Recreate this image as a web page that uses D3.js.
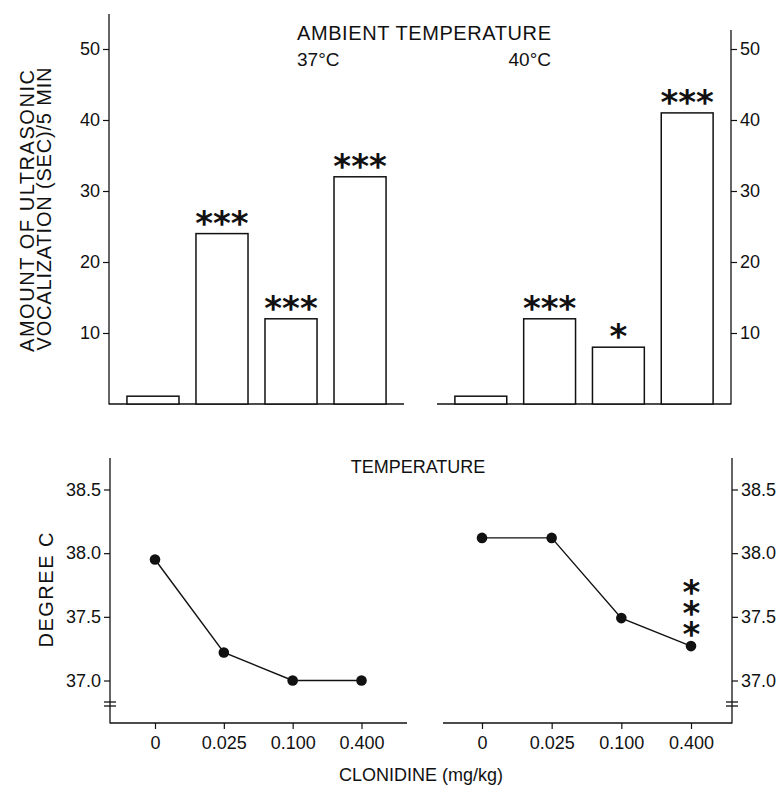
<!DOCTYPE html>
<html>
<head>
<meta charset="utf-8">
<script src="https://cdn.jsdelivr.net/npm/d3@7"></script>
<style>
  html, body { margin: 0; padding: 0; background: #fff; }
  svg { display: block; }
  text { font-family: "Liberation Sans", Arial, sans-serif; fill: #111; }
  .tick text { font-family: "Liberation Sans", Arial, sans-serif; font-size: 18px; fill: #111; }
  .tick line { stroke: #111; stroke-width: 1.2; }
  .sig { font-family: "DejaVu Sans", sans-serif; font-weight: bold; font-size: 34px; }
</style>
</head>
<body>
<svg id="chart" width="783" height="789"></svg>
<script>
// ---- data ----
const doses = ["0", "0.025", "0.100", "0.400"];
const vocal37 = [1.1, 24, 12, 32];
const vocal40 = [1.1, 12, 8, 41];
const vocalSig37 = ["", "***", "***", "***"];
const vocalSig40 = ["", "***", "*", "***"];
const temp37 = [37.95, 37.22, 37.0, 37.0];
const temp40 = [38.12, 38.12, 37.49, 37.27];
const tempSig37 = ["", "", "", ""];
const tempSig40 = ["", "", "", "***"];
const vocalTicks = [10, 20, 30, 40, 50];
const tempTicks = [37.0, 37.5, 38.0, 38.5];
const panelLabels = ["37°C", "40°C"];

const svg = d3.select("#chart");
const ink = "#111";

// ---- scales ----
const xBarL = d3.scaleBand().domain(doses).range([109, 404]).paddingInner(0.246).paddingOuter(0.26);
const xBarR = d3.scaleBand().domain(doses).range([437, 731]).paddingInner(0.246).paddingOuter(0.26);
const yVoc = d3.scaleLinear().domain([0, 50]).range([404, 49]);

const xPtL = d3.scalePoint().domain(doses).range([155, 361.5]);
const xPtR = d3.scalePoint().domain(doses).range([482, 691]);
const yTmp = d3.scaleLinear().domain([37.0, 38.5]).range([680.5, 489.5]);

function line(x1, y1, x2, y2, w) {
  svg.append("line").attr("x1", x1).attr("y1", y1).attr("x2", x2).attr("y2", y2)
    .attr("stroke", ink).attr("stroke-width", w || 1.3);
}

// ---- top panel axes ----
line(109, 14, 109, 404.5);
line(731, 30, 731, 404.5);
line(109, 404, 404, 404, 1.5);
line(437, 404, 731, 404, 1.5);

svg.append("g").attr("transform", "translate(109,0)")
  .call(d3.axisLeft(yVoc).tickValues(vocalTicks).tickSize(6).tickPadding(3))
  .call(g => g.select(".domain").remove());
svg.append("g").attr("transform", "translate(731,0)")
  .call(d3.axisRight(yVoc).tickValues(vocalTicks).tickSize(6).tickPadding(3))
  .call(g => g.select(".domain").remove());

// ---- bars ----
function drawBars(vals, sig, x) {
  const g = svg.append("g");
  g.selectAll("rect").data(vals).join("rect")
    .attr("x", (d, i) => x(doses[i]))
    .attr("y", d => yVoc(d))
    .attr("width", x.bandwidth())
    .attr("height", d => yVoc(0) - yVoc(d))
    .attr("fill", "#fff").attr("stroke", ink).attr("stroke-width", 1.5);
  g.selectAll("text.sig").data(sig).join("text").attr("class", "sig")
    .attr("x", (d, i) => x(doses[i]) + x.bandwidth() / 2)
    .attr("y", (d, i) => yVoc(vals[i]) + 1)
    .attr("text-anchor", "middle")
    .text(d => d);
}
drawBars(vocal37, vocalSig37, xBarL);
drawBars(vocal40, vocalSig40, xBarR);

// ---- top titles ----
svg.append("text").attr("x", 297).attr("y", 40).style("font-size", "20px")
  .attr("textLength", 254).attr("lengthAdjust", "spacing").text("AMBIENT TEMPERATURE");
svg.append("text").attr("x", 297).attr("y", 66).style("font-size", "19px").text(panelLabels[0]);
svg.append("text").attr("x", 551).attr("y", 66).attr("text-anchor", "end").style("font-size", "19px").text(panelLabels[1]);

svg.append("text").attr("transform", "translate(34,211) rotate(-90)").attr("text-anchor", "middle")
  .style("font-size", "20px").attr("textLength", 282).attr("lengthAdjust", "spacing")
  .text("AMOUNT OF ULTRASONIC");
svg.append("text").attr("transform", "translate(51,209) rotate(-90)").attr("text-anchor", "middle")
  .style("font-size", "20px").attr("textLength", 283).attr("lengthAdjust", "spacing")
  .text("VOCALIZATION (SEC)/5 MIN");

// ---- bottom panel axes ----
function breakMark(x) {
  line(x - 6, 702, x + 6, 702, 1.3);
  line(x - 6, 706, x + 6, 706, 1.3);
}
line(110, 458, 110, 723.5);
line(732, 458, 732, 723.5);
line(110, 723, 407, 723, 1.4);
line(443, 723, 732, 723, 1.4);
breakMark(110); breakMark(732);

svg.append("g").attr("transform", "translate(110,0)")
  .call(d3.axisLeft(yTmp).tickValues(tempTicks).tickFormat(d3.format(".1f")).tickSize(6).tickPadding(3))
  .call(g => g.select(".domain").remove());
svg.append("g").attr("transform", "translate(732,0)")
  .call(d3.axisRight(yTmp).tickValues(tempTicks).tickFormat(d3.format(".1f")).tickSize(6).tickPadding(3))
  .call(g => g.select(".domain").remove());

svg.append("g").attr("transform", "translate(0,723)")
  .call(d3.axisBottom(xPtL).tickSize(6).tickPadding(7))
  .call(g => g.select(".domain").remove());
svg.append("g").attr("transform", "translate(0,723)")
  .call(d3.axisBottom(xPtR).tickSize(6).tickPadding(7))
  .call(g => g.select(".domain").remove());

// ---- temperature lines ----
function drawTemp(vals, sig, x) {
  const g = svg.append("g");
  const pts = vals.map((v, i) => [x(doses[i]), yTmp(v)]);
  g.append("path").attr("d", d3.line()(pts)).attr("fill", "none")
    .attr("stroke", ink).attr("stroke-width", 1.4);
  g.selectAll("circle").data(vals).join("circle")
    .attr("cx", (d, i) => x(doses[i])).attr("cy", d => yTmp(d)).attr("r", 5.3).attr("fill", ink);
  // vertical stack of significance stars (one text, each glyph kept upright)
  sig.forEach((s, i) => {
    if (!s) return;
    const adv = 17, topCenter = yTmp(vals[i]) - 60.5;
    g.append("text").attr("class", "sig")
      .attr("transform", `translate(${x(doses[i]) - adv / 2},${topCenter + 18}) rotate(90)`)
      .attr("rotate", s.split("").map(() => -90).join(" "))
      .style("letter-spacing", "3.5px")
      .text(s);
  });
}
drawTemp(temp37, tempSig37, xPtL);
drawTemp(temp40, tempSig40, xPtR);

svg.append("text").attr("x", 418).attr("y", 473).attr("text-anchor", "middle")
  .style("font-size", "18px").text("TEMPERATURE");
svg.append("text").attr("transform", "translate(53,590) rotate(-90)").attr("text-anchor", "middle")
  .style("font-size", "20px").attr("textLength", 115).attr("lengthAdjust", "spacing")
  .text("DEGREE  C");

svg.append("text").attr("x", 421).attr("y", 781).attr("text-anchor", "middle")
  .style("font-size", "18px").text("CLONIDINE  (mg/kg)");
</script>
</body>
</html>
